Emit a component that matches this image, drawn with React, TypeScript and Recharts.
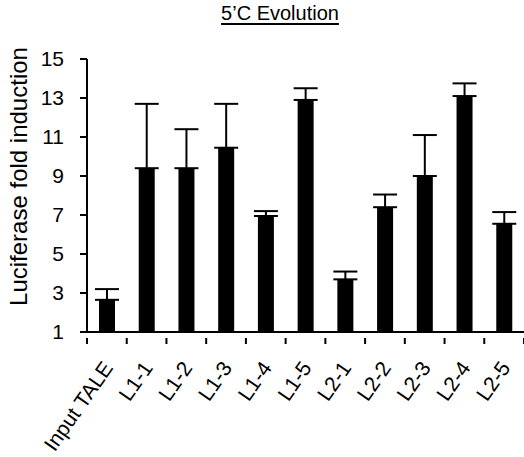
import React from 'react';
import { BarChart, Bar, XAxis, YAxis, ErrorBar, Label } from 'recharts';

const categories = ['Input TALE', 'L1-1', 'L1-2', 'L1-3', 'L1-4', 'L1-5', 'L2-1', 'L2-2', 'L2-3', 'L2-4', 'L2-5'];
const foldInduction = [2.65, 9.4, 9.4, 10.45, 6.95, 12.9, 3.7, 7.4, 9.0, 13.1, 6.55];
const upperError = [0.55, 3.3, 2.0, 2.25, 0.25, 0.6, 0.4, 0.65, 2.1, 0.65, 0.6];
const yTicks = [1, 3, 5, 7, 9, 11, 13, 15];

const data = categories.map((name, i) => ({ name, value: foldInduction[i], err: [0, upperError[i]] }));

const W = 524;
const H = 457;
const Y_AXIS_W = 87;
const BAND = (W - Y_AXIS_W) / categories.length;
const FONT = '"Liberation Sans", Arial, sans-serif';

// category ticks sit on band edges, labels rotated under the center
const XTick = (props: any) => {
  const { x, y, payload, index } = props;
  const left = x - BAND / 2;
  const tx = x + 7;
  const ty = y + 30;
  return (
    <g>
      <line x1={left} x2={left} y1={y} y2={y + 6} stroke="#000" strokeWidth={2} />
      {index === categories.length - 1 && (
        <line x1={left + BAND} x2={left + BAND} y1={y} y2={y + 6} stroke="#000" strokeWidth={2} />
      )}
      <text
        x={tx}
        y={ty}
        textAnchor="end"
        fontSize={21}
        fontFamily={FONT}
        fill="#000"
        transform={`rotate(-55, ${tx}, ${ty})`}
      >
        {payload.value}
      </text>
    </g>
  );
};

const YLabel = (props: any) => {
  const { viewBox } = props;
  const cx = viewBox.x + 27;
  const cy = viewBox.y + viewBox.height / 2 - 19;
  return (
    <text
      x={cx}
      y={cy}
      textAnchor="middle"
      fontSize={24}
      fontFamily={FONT}
      fill="#000"
      transform={`rotate(-90, ${cx}, ${cy})`}
    >
      Luciferase fold induction
    </text>
  );
};

export default function App() {
  return (
    <div style={{ position: 'absolute', left: 0, top: 0, width: W, height: H, background: '#fff' }}>
      <div
        style={{
          position: 'absolute',
          top: 2,
          left: 180,
          width: 200,
          textAlign: 'center',
          fontFamily: FONT,
          fontSize: 20,
          lineHeight: '22px',
          textDecoration: 'underline',
          textDecorationThickness: 2,
          textUnderlineOffset: 3,
        }}
      >
        5’C Evolution
      </div>
      <BarChart width={W} height={H} data={data} margin={{ top: 59, right: 0, bottom: 0, left: 0 }}>
        <XAxis
          dataKey="name"
          height={125}
          interval={0}
          tickLine={false}
          tickMargin={0}
          axisLine={{ stroke: '#000', strokeWidth: 2 }}
          tick={<XTick />}
        />
        <YAxis
          width={Y_AXIS_W}
          domain={[1, 15]}
          ticks={yTicks}
          interval={0}
          tickSize={7}
          tickMargin={16}
          axisLine={{ stroke: '#000', strokeWidth: 2 }}
          tickLine={{ stroke: '#000', strokeWidth: 2 }}
          tick={{ fill: '#000', fontSize: 21, fontFamily: FONT }}
        >
          <Label content={<YLabel />} />
        </YAxis>
        <Bar dataKey="value" fill="#000" barSize={16} isAnimationActive={false}>
          <ErrorBar dataKey="err" width={12} stroke="#000" strokeWidth={2} isAnimationActive={false} />
        </Bar>
      </BarChart>
    </div>
  );
}
